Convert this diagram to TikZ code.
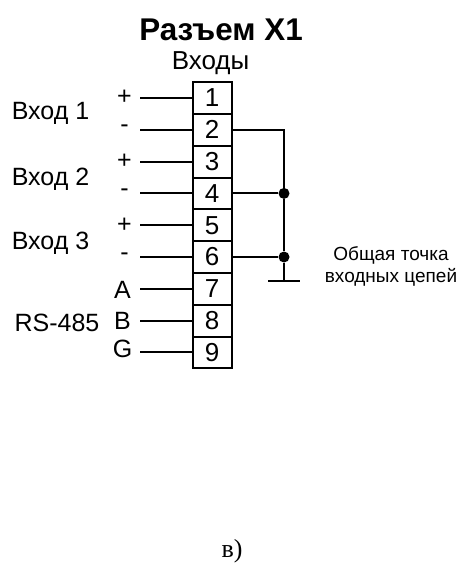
\documentclass[tikz,border=0pt]{standalone}
\usepackage{fontspec}
\setmainfont{Liberation Sans}
\newfontfamily\serifcyr{Liberation Serif}
\tikzset{
  wire/.style={line width=2pt,black},
  cell/.style={draw=black,line width=2pt,minimum width=39pt,minimum height=31.8pt,inner sep=0pt,font=\fontsize{26}{26}\selectfont},
  lab/.style={inner sep=0pt,font=\fontsize{25}{25}\selectfont},
  small/.style={inner sep=0pt,font=\fontsize{19}{19}\selectfont},
  junction/.style={circle,fill=black,inner sep=0pt,minimum size=11pt}
}
\begin{document}
\begin{tikzpicture}[x=1pt,y=-1pt]
\useasboundingbox (0,0) rectangle (461,564);
\node[inner sep=0pt,font=\fontsize{31.4}{31.4}\selectfont\bfseries] (title) at (221,30) {Разъем X1};
\node[lab,font=\fontsize{26}{26}\selectfont] (inputs) at (210.5,63) {Входы};
\foreach \i/\y in {1/98,2/129.8,3/161.6,4/193.4,5/225.2,6/257,7/288.8,8/320.6,9/352.4}{
  \node[cell] (c\i) at (212,\y) {\i};
  \coordinate (w\i) at (140,\y);
  \draw[wire] (w\i) -- (c\i.west);
}
\node[lab] (in1) at (50.5,113) {Вход 1};
\node[lab] (in2) at (50.5,179) {Вход 2};
\node[lab] (in3) at (50.5,243) {Вход 3};
\node[lab] (p1) at (124.5,97) {+};
\node[lab] (m1) at (124.5,129) {-};
\node[lab] (p3) at (124.5,161) {+};
\node[lab] (m4) at (124.5,193) {-};
\node[lab] (p5) at (124.5,225) {+};
\node[lab] (m6) at (124.5,257) {-};
\node[lab] (a) at (122.5,290) {A};
\node[lab] (b) at (122.5,321) {B};
\node[lab] (g) at (122.5,349) {G};
\node[lab] (rs) at (57,323) {RS-485};
\coordinate (top) at (284,129.8);
\node[junction] (j4) at (284,193.4) {};
\node[junction] (j6) at (284,257) {};
\coordinate (gnd) at (284,281);
\coordinate (gl) at (268,281);
\coordinate (gr) at (300,281);
\draw[wire] (c2.east) -- (top) -- (j4) -- (j6) -- (gnd);
\draw[wire] (c4.east) -- (j4);
\draw[wire] (c6.east) -- (j6);
\draw[wire] (gl) -- (gr);
\node[small] (t1) at (391,255) {Общая точка};
\node[small] (t2) at (391,277) {входных цепей};
\node[inner sep=0pt,font=\serifcyr\fontsize{26}{26}\selectfont] (cap) at (232,551) {в)};
\end{tikzpicture}
\end{document}
